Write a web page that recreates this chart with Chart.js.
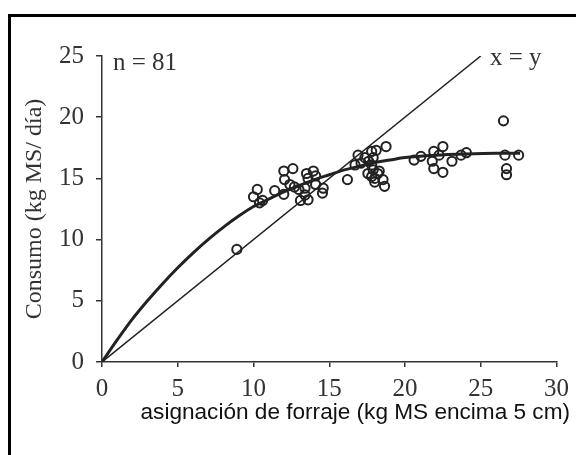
<!DOCTYPE html>
<html>
<head>
<meta charset="utf-8">
<script src="https://cdn.jsdelivr.net/npm/chart.js@4/dist/chart.umd.min.js"></script>
<style>
  html, body { margin: 0; padding: 0; background: #fff; }
  #wrap { width: 576px; height: 455px; }
</style>
</head>
<body>
<div id="wrap"><canvas id="myChart" width="576" height="455"></canvas></div>
<script>
'use strict';

// observed points: asignacion (x) and consumo (y)
let asignacion = [8.9, 10.0, 10.25, 10.4, 10.6, 11.4, 12.0, 12.6, 12.05, 12.0, 12.4, 12.7, 13.0, 13.4, 13.5, 13.95,
  14.1, 13.1, 13.6, 13.4, 13.6, 14.6, 14.55, 14.1, 16.2, 16.9, 17.35, 17.1, 16.7, 17.8, 17.9, 17.8, 18.0, 18.75,
  18.1, 17.9, 17.8, 18.3, 18.0, 18.55, 18.65, 17.55, 17.6, 18.2, 20.6, 21.05, 21.9, 22.5, 22.25, 21.8, 21.9, 22.5,
  23.1, 23.7, 24.05, 26.5, 26.6, 27.5, 26.7, 26.7];
let consumo = [9.2, 13.5, 14.1, 13.0, 13.2, 14.0, 15.6, 15.8, 14.9, 13.7, 14.5, 14.3, 14.1, 14.2, 15.4, 15.6,
  15.2, 13.2, 13.25, 13.65, 15.0, 14.2, 13.8, 14.5, 14.9, 16.9, 16.7, 16.25, 16.1, 17.2, 15.7, 15.15, 14.7, 17.6,
  17.3, 16.7, 16.1, 15.6, 15.0, 14.9, 14.35, 15.4, 16.4, 15.4, 16.5, 16.8, 17.2, 17.6, 16.9, 16.4, 15.8, 15.5,
  16.4, 16.9, 17.1, 19.7, 16.9, 16.9, 15.8, 15.3];

// fitted curve
let curveX = [0, 1, 2, 3, 4, 5, 6, 7, 8, 9, 10, 11, 12, 13, 14, 15, 16, 17, 18, 19, 20, 22, 24, 26, 27.6];
let curveY = [0, 1.8, 3.5, 5.0, 6.4, 7.7, 8.9, 10.0, 11.0, 11.9, 12.7, 13.3, 13.9, 14.4, 14.9, 15.3, 15.7, 16.0,
  16.3, 16.5, 16.7, 16.9, 17.0, 17.05, 17.05];

// x = y reference line
let lineX = [0, 25];
let lineY = [0, 25];

let xTicks = [0, 5, 10, 15, 20, 25, 30];
let yTicks = [0, 5, 10, 15, 20, 25];

let xTitle = 'asignación de forraje (kg MS encima 5 cm)';
let yTitle = 'Consumo (kg MS/ día)';

let ink = '#222';
let serif = 'Liberation Serif';

function toPoints(xs, ys) {
  let pts = [];
  for (let i = 0; i < xs.length; i++) {
    pts.push({ x: xs[i], y: ys[i] });
  }
  return pts;
}

// frame, x title and the two text notes
let extras = {
  id: 'extras',
  beforeDraw(chart) {
    let ctx = chart.ctx;
    ctx.save();
    ctx.fillStyle = '#fff';
    ctx.fillRect(0, 0, chart.width, chart.height);
    ctx.restore();
  },
  afterDraw(chart) {
    let ctx = chart.ctx;
    ctx.save();
    ctx.strokeStyle = '#000';
    ctx.lineWidth = 3;
    ctx.strokeRect(9.5, 15.5, 620, 500);
    ctx.fillStyle = '#333';
    ctx.font = '25px "' + serif + '"';
    ctx.textBaseline = 'alphabetic';
    ctx.textAlign = 'left';
    ctx.fillText('n = 81', 113, 70);
    ctx.fillText('x = y', 490, 65);
    // x axis title, right aligned like the original
    ctx.fillStyle = '#111';
    ctx.font = '22.6px "Liberation Sans"';
    ctx.textAlign = 'right';
    ctx.textBaseline = 'middle';
    ctx.fillText(xTitle, 570, 413);
    ctx.restore();
  }
};

let ctx = document.getElementById('myChart').getContext('2d');

let chart = new Chart(ctx, {
  type: 'scatter',
  data: {
    datasets: [
      {
        type: 'line',
        label: 'x = y',
        data: toPoints(lineX, lineY),
        borderColor: ink,
        borderWidth: 1.5,
        pointRadius: 0,
        fill: false
      },
      {
        type: 'line',
        label: 'ajuste',
        data: toPoints(curveX, curveY),
        borderColor: ink,
        borderWidth: 3,
        pointRadius: 0,
        cubicInterpolationMode: 'monotone',
        fill: false
      },
      {
        label: 'observado',
        data: toPoints(asignacion, consumo),
        borderColor: ink,
        backgroundColor: 'rgba(0,0,0,0)',
        borderWidth: 2,
        pointRadius: 4.6
      }
    ]
  },
  options: {
    responsive: false,
    animation: false,
    layout: { padding: { top: 56, right: 4, bottom: 0, left: 0 } },
    plugins: {
      legend: { display: false },
      tooltip: { enabled: false }
    },
    scales: {
      x: {
        type: 'linear',
        min: 0,
        max: 30,
        afterBuildTicks(scale) {
          scale.ticks = xTicks.map(v => ({ value: v }));
        },
        afterFit(scale) {
          scale.height = 93;
        },
        grid: { drawOnChartArea: false, color: '#333', tickLength: 5, lineWidth: 1.5 },
        border: { color: '#333', width: 1.5 },
        ticks: { color: '#333', padding: 7, font: { family: serif, size: 25 }, maxRotation: 0 },
        title: { display: false }
      },
      y: {
        type: 'linear',
        min: 0,
        max: 25,
        afterBuildTicks(scale) {
          scale.ticks = yTicks.map(v => ({ value: v }));
        },
        afterFit(scale) {
          scale.width = 102;
        },
        grid: { drawOnChartArea: false, color: '#333', tickLength: 6, lineWidth: 1.5 },
        border: { color: '#333', width: 1.5 },
        ticks: { color: '#333', padding: 12, font: { family: serif, size: 25 } },
        title: {
          display: true,
          text: yTitle,
          color: '#333',
          font: { family: serif, size: 24 },
          padding: { top: 20, bottom: 0 }
        }
      }
    }
  },
  plugins: [extras]
});
</script>
</body>
</html>
